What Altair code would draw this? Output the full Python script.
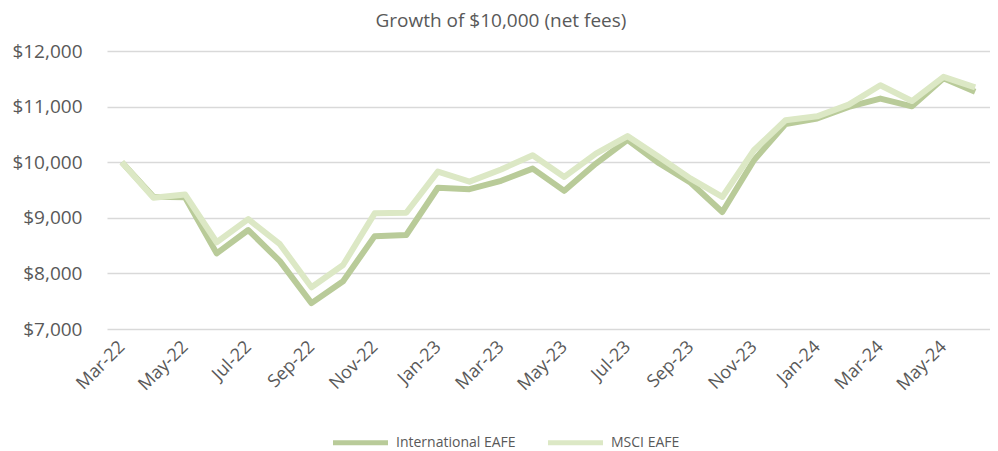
import altair as alt
import pandas as pd

months = ["Mar-22", "Apr-22", "May-22", "Jun-22", "Jul-22", "Aug-22", "Sep-22", "Oct-22",
          "Nov-22", "Dec-22", "Jan-23", "Feb-23", "Mar-23", "Apr-23", "May-23", "Jun-23",
          "Jul-23", "Aug-23", "Sep-23", "Oct-23", "Nov-23", "Dec-23", "Jan-24", "Feb-24",
          "Mar-24", "Apr-24", "May-24", "Jun-24"]

intl_eafe = [10000, 9380, 9370, 8360, 8780, 8220, 7465, 7860, 8670, 8690,
             9540, 9515, 9665, 9885, 9485, 9975, 10400, 9980, 9630, 9105,
             10035, 10685, 10785, 10995, 11145, 11005, 11510, 11265]

msci_eafe = [10000, 9360, 9420, 8560, 8975, 8525, 7750, 8150, 9080, 9090,
             9830, 9650, 9870, 10125, 9735, 10155, 10470, 10095, 9705, 9375,
             10215, 10755, 10825, 11035, 11385, 11100, 11535, 11345]

series_names = ["International EAFE", "MSCI EAFE"]
series_colors = ["#b9cb99", "#dce8c5"]
x_labels = months[::2]
y_ticks = [7000, 8000, 9000, 10000, 11000, 12000]

rows = []
for i, m in enumerate(months):
    rows.append({"Month": m, "Series": series_names[0], "Value": intl_eafe[i], "order": i})
    rows.append({"Month": m, "Series": series_names[1], "Value": msci_eafe[i], "order": i})
df = pd.DataFrame(rows)

FONT = "Open Sans"
GREY = "#595959"

chart = alt.Chart(df).mark_line(strokeWidth=6, strokeJoin="round").encode(
    x=alt.X("Month:N", sort=months,
            scale=alt.Scale(type="point", padding=0.47),
            axis=alt.Axis(values=x_labels, labelAngle=-45, title=None, ticks=False,
                          domain=False, grid=False, labelFontSize=18, labelColor=GREY,
                          labelFont=FONT, labelPadding=15, labelAlign="right",
                          labelBaseline="middle")),
    y=alt.Y("Value:Q", scale=alt.Scale(domain=[7000, 12000], nice=False, zero=False),
            axis=alt.Axis(values=y_ticks, format="$,.0f", title=None, ticks=False,
                          domain=False, grid=True, gridColor="#d9d9d9", gridWidth=1.3,
                          labelFontSize=19, labelColor=GREY, labelFont=FONT,
                          labelPadding=25)),
    color=alt.Color("Series:N", sort=series_names,
                    scale=alt.Scale(domain=series_names, range=series_colors),
                    legend=alt.Legend(orient="none", legendX=240, legendY=378,
                                      direction="horizontal", title=None,
                                      symbolType="M-2.5,0L2.5,0", symbolSize=484,
                                      symbolStrokeWidth=5, labelFontSize=14,
                                      labelColor=GREY, labelFont=FONT,
                                      labelOffset=22, columnPadding=22)),
    order=alt.Order("order:Q"),
).properties(
    width=883, height=278,
    title=alt.TitleParams("Growth of $10,000 (net fees)", font=FONT, fontSize=19,
                          fontWeight="normal", color=GREY, anchor="middle",
                          frame="bounds", offset=11),
    autosize=alt.AutoSizeParams(type="none"),
    padding={"left": 99, "top": 43, "right": 0, "bottom": 123},
).configure_view(stroke=None)

chart.save("out.html", embed_options={"renderer": "svg", "actions": False})
